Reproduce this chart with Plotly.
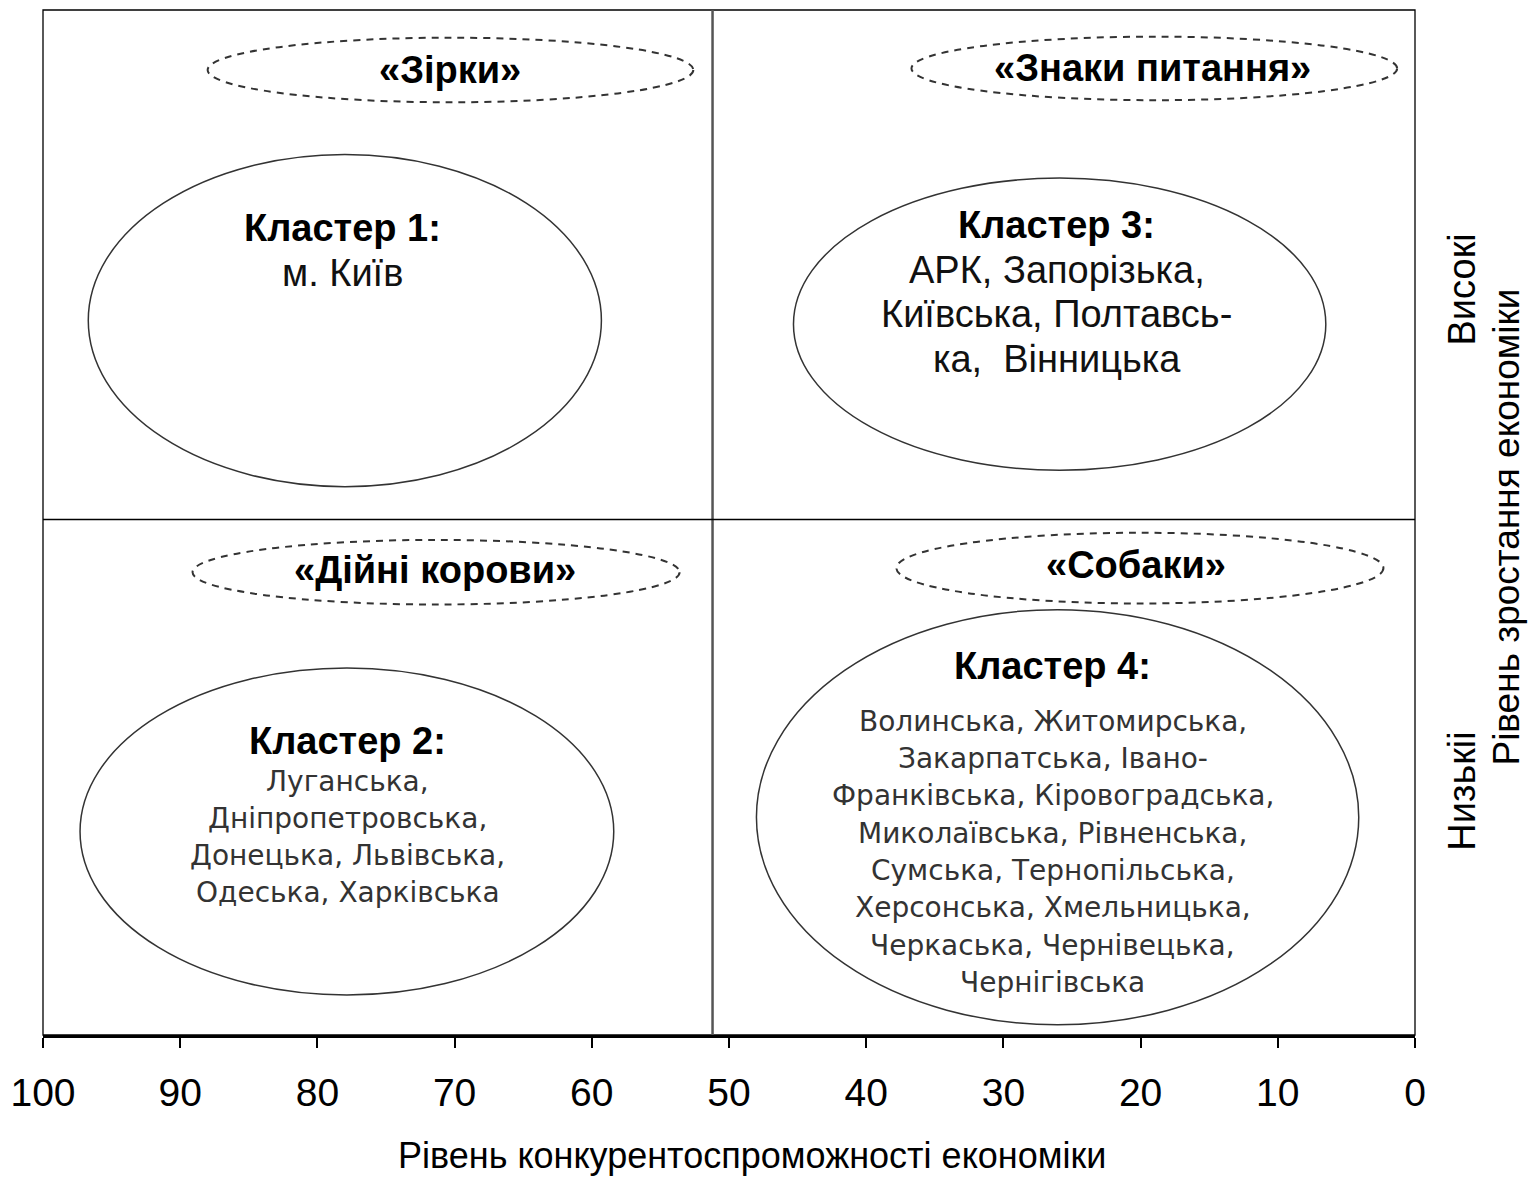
import plotly.graph_objects as go

# ---------------- data ----------------
x_ticks = [100, 90, 80, 70, 60, 50, 40, 30, 20, 10, 0]
x_title = "Рівень конкурентоспроможності економіки"
y_title = "Рівень зростання економіки"
y_high = "Високі"
y_low = "Низькіі"

quadrant_names = ["«Зірки»", "«Знаки питання»", "«Дійні корови»", "«Собаки»"]

cluster_titles = ["Кластер 1:", "Кластер 3:", "Кластер 2:", "Кластер 4:"]
cluster_1 = ["м. Київ"]
cluster_3 = ["АРК, Запорізька,", "Київська, Полтавсь-", "ка,  Вінницька"]
cluster_2 = ["Луганська,", "Дніпропетровська,", "Донецька, Львівська,", "Одеська, Харківська"]
cluster_4 = ["Волинська, Житомирська,", "Закарпатська, Івано-",
             "Франківська, Кіровоградська,", "Миколаївська, Рівненська,",
             "Сумська, Тернопільська,", "Херсонська, Хмельницька,",
             "Черкаська, Чернівецька,", "Чернігівська"]

split_x = 51.2
split_y = 50.3

# ---------------- layout config ----------------
FONT = "Liberation Sans, Arial, sans-serif"
FONT2 = "DejaVu Sans, Verdana, sans-serif"

fig = go.Figure()
fig.add_trace(go.Scatter(x=[100, 0], y=[0, 100], mode="markers",
                         marker=dict(opacity=0), hoverinfo="skip", showlegend=False))

shapes = []
shapes.append(dict(type="rect", xref="paper", yref="paper", x0=0, x1=1, y0=0, y1=1,
                   line=dict(color="black", width=1.3)))
shapes.append(dict(type="line", xref="x", yref="paper", x0=split_x, x1=split_x, y0=0, y1=1,
                   line=dict(color="#555555", width=2.5)))
shapes.append(dict(type="line", xref="paper", yref="y", x0=0, x1=1, y0=split_y, y1=split_y,
                   line=dict(color="black", width=1.5)))

cluster_ellipses = [(96.7, 59.3, 53.5, 85.9), (45.3, 6.5, 55.1, 83.6),
                    (97.3, 58.4, 3.9, 35.8), (48.0, 4.1, 1.0, 41.5)]
for (a, b, c, d) in cluster_ellipses:
    shapes.append(dict(type="circle", xref="x", yref="y", x0=a, x1=b, y0=c, y1=d,
                       line=dict(color="#333333", width=1.5)))

name_ellipses = [(88.0, 52.6, 91.0, 97.3), (36.7, 1.3, 91.2, 97.4),
                 (89.1, 53.6, 42.0, 48.3), (37.8, 2.3, 42.1, 49.0)]
for (a, b, c, d) in name_ellipses:
    shapes.append(dict(type="circle", xref="x", yref="y", x0=a, x1=b, y0=c, y1=d,
                       line=dict(color="#333333", width=2, dash="7px,6px")))

annotations = []
name_pos = [(70.3, 94.1), (19.1, 94.3), (71.4, 45.4), (20.3, 45.9)]
for name, (x, y) in zip(quadrant_names, name_pos):
    annotations.append(dict(x=x, y=y, xref="x", yref="y", text="<b>" + name + "</b>",
                            showarrow=False, font=dict(family=FONT, size=38, color="black")))

# (title, lines, x, heading y, first line y, step, font, size, color)
blocks = [
    (cluster_titles[0], cluster_1, 78.2, 78.7, 74.3, 4.3, FONT, 38, "#111111"),
    (cluster_titles[1], cluster_3, 26.1, 79.0, 74.6, 4.3, FONT, 38, "#111111"),
    (cluster_titles[2], cluster_2, 77.8, 28.7, 24.7, 3.6, FONT2, 28, "#333333"),
    (cluster_titles[3], cluster_4, 26.4, 36.0, 30.6, 3.64, FONT2, 28, "#333333"),
]
for title, lines, x, yh, y1, step, fam, fs, col in blocks:
    annotations.append(dict(x=x, y=yh, xref="x", yref="y", text="<b>" + title + "</b>",
                            showarrow=False, font=dict(family=FONT, size=38, color="black")))
    for i, ln in enumerate(lines):
        annotations.append(dict(x=x, y=y1 - i * step, xref="x", yref="y", text=ln,
                                showarrow=False, font=dict(family=fam, size=fs, color=col)))

for txt, px, py, fs in [(y_high, 1.034, 0.727, 38), (y_low, 1.034, 0.238, 38),
                        (y_title, 1.067, 0.496, 37)]:
    annotations.append(dict(x=px, y=py, xref="paper", yref="paper", text=txt,
                            textangle=-90, showarrow=False, xanchor="center", yanchor="middle",
                            font=dict(family=FONT, size=fs, color="black")))
annotations.append(dict(x=0.517, y=-0.118, xref="paper", yref="paper", text=x_title,
                        showarrow=False, xanchor="center", yanchor="middle",
                        font=dict(family=FONT, size=36, color="black")))

fig.update_layout(
    width=1523, height=1171,
    margin=dict(l=35, r=116, t=2, b=144),
    paper_bgcolor="white", plot_bgcolor="white",
    shapes=shapes, annotations=annotations,
    showlegend=False,
    xaxis=dict(range=[100, 0], tickmode="array", tickvals=x_ticks,
               ticktext=[str(v) for v in x_ticks],
               ticks="outside", ticklen=10, tickwidth=2, tickcolor="black",
               showline=True, linecolor="black", linewidth=3,
               showgrid=False, zeroline=False, ticklabelstandoff=11,
               tickfont=dict(family=FONT, size=39, color="black")),
    yaxis=dict(range=[0, 100], showticklabels=False, ticks="", showgrid=False,
               zeroline=False, showline=False),
)

fig.write_html("out.html")
